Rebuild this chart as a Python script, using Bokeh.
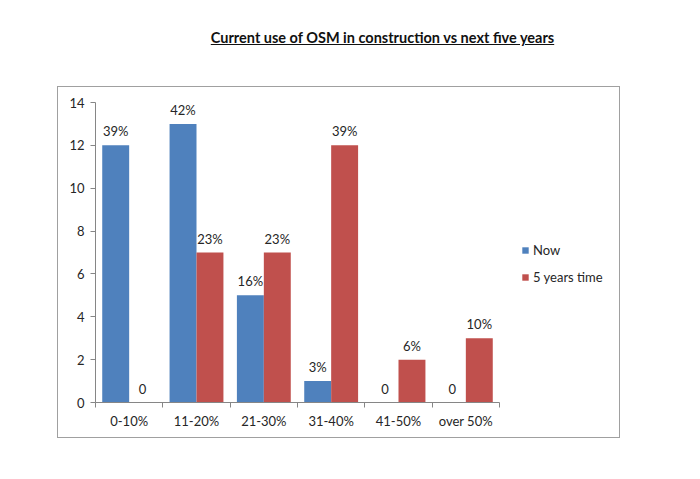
import numpy as np
from bokeh.plotting import figure
from bokeh.layouts import column
from bokeh.models import (ColumnDataSource, Range1d, FixedTicker, Legend, LegendItem, LabelSet, Div)
from bokeh.core.properties import value
from bokeh.embed import file_html
from bokeh.resources import INLINE

# ---- data ----
categories = ["0-10%", "11-20%", "21-30%", "31-40%", "41-50%", "over 50%"]
now_values = [12, 13, 5, 1, 0, 0]
five_year_values = [0, 7, 7, 12, 2, 3]
now_labels = ["39%", "42%", "16%", "3%", "0", "0"]
five_year_labels = ["0", "23%", "23%", "39%", "6%", "10%"]
y_ticks = [0, 2, 4, 6, 8, 10, 12, 14]
title_text = "Current use of OSM in construction vs next five years"
series_names = ["Now", "5 years time"]

BLUE = "#4F81BD"
RED = "#C0504D"
TXT = "#262626"
AX = "#868686"
FONT = "Lato"
FS = "13px"
BAR_W = 0.4

n = len(categories)
centers = np.arange(n) + 0.5
src = ColumnDataSource(dict(xn=centers - BAR_W / 2, xf=centers + BAR_W / 2,
                            now=now_values, fy=five_year_values,
                            nl=now_labels, fl=five_year_labels))

title_div = Div(
    text=('<div style="position:relative;width:692px;height:87px;">'
          '<span style="position:absolute;left:0;width:765px;top:28px;text-align:center;'
          'font-family:Lato;font-weight:bold;font-size:14.5px;color:#111;text-decoration:underline;">'
          + title_text + '</span></div>'),
    width=692, height=87, margin=0)

# frame: 514 px wide, of which the 6 categories use 404 px (rest holds the legend)
FRAME_W, CAT_W = 514, 404
p = figure(width=561, height=350, output_backend="svg", toolbar_location=None,
           x_range=Range1d(0, n * FRAME_W / CAT_W), y_range=Range1d(0, 14),
           min_border_left=37, min_border_right=10, min_border_top=15, min_border_bottom=35,
           margin=(0, 0, 0, 58))
p.styles = {"outline": "1px solid #A0A0A0"}
p.outline_line_color = None
p.grid.grid_line_color = None

r1 = p.vbar(x="xn", top="now", width=BAR_W, source=src, fill_color=BLUE, line_color=None)
r2 = p.vbar(x="xf", top="fy", width=BAR_W, source=src, fill_color=RED, line_color=None)

for xcol, col, lab in (("xn", "now", "nl"), ("xf", "fy", "fl")):
    p.add_layout(LabelSet(x=xcol, y=col, text=lab, source=src,
                          text_align="center", text_baseline="middle", y_offset=14,
                          text_font=value(FONT), text_font_size=FS, text_color=TXT))

xa = p.xaxis[0]
xa.bounds = (0, n)
xa.ticker = FixedTicker(ticks=list(centers), minor_ticks=list(range(n + 1)))
xa.major_label_overrides = {float(c): name for c, name in zip(centers, categories)}
xa.major_tick_line_color = None
xa.minor_tick_line_color = AX
xa.minor_tick_out = 5
xa.minor_tick_in = 0
xa.axis_line_color = AX
xa.major_label_text_font = FONT
xa.major_label_text_font_size = FS
xa.major_label_text_color = TXT
xa.major_label_standoff = 4

ya = p.yaxis[0]
ya.ticker = FixedTicker(ticks=y_ticks, minor_ticks=[])
ya.major_tick_line_color = AX
ya.major_tick_out = 5
ya.major_tick_in = 0
ya.minor_tick_line_color = None
ya.axis_line_color = AX
ya.major_label_text_font = FONT
ya.major_label_text_font_size = FS
ya.major_label_text_color = TXT
ya.major_label_standoff = 6

legend = Legend(items=[LegendItem(label=series_names[0], renderers=[r1]),
                       LegendItem(label=series_names[1], renderers=[r2])],
                location=(426, 117), orientation="vertical",
                glyph_width=8, glyph_height=8, label_height=14, spacing=11,
                label_standoff=4, padding=0, margin=0, border_line_color=None,
                background_fill_alpha=0,
                label_text_font=FONT, label_text_font_size=FS, label_text_color=TXT)
p.add_layout(legend)

layout = column(title_div, p, spacing=0)
open("out.html", "w").write(file_html(layout, INLINE))
